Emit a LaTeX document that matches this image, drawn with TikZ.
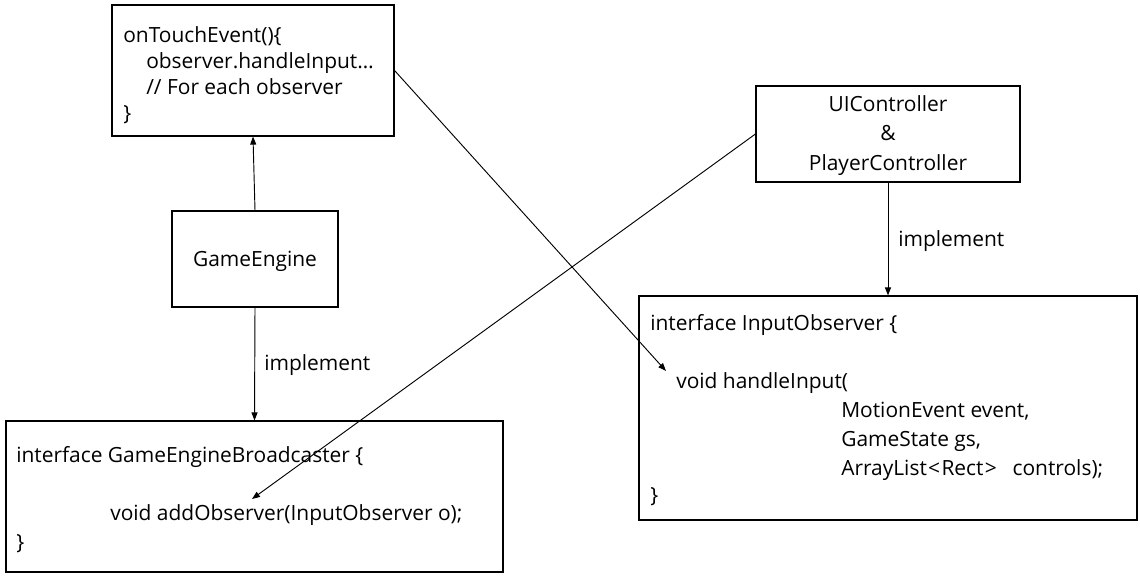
\documentclass[tikz,border=0pt]{standalone}
\usepackage{fontspec}
\setmainfont{Open Sans}
\usetikzlibrary{arrows.meta}
\begin{document}
\begin{tikzpicture}[x=0.75pt,y=-0.75pt,
  box/.style={draw=black,line width=0.85pt,inner sep=0pt},
  txt/.style={anchor=base west,inner sep=0pt,font=\fontsize{15.7}{18}\selectfont},
  ctxt/.style={anchor=base,inner sep=0pt,font=\fontsize{15.7}{18}\selectfont},
  conn/.style={draw=black,line width=0.7pt,-{Triangle[length=6pt,width=4.5pt]}}]
\useasboundingbox (0,0) rectangle (1140,578);
% boxes
\node[box,minimum width=211.5pt,minimum height=98.25pt] (touch) at (253,70.5) {};
\node[box,minimum width=124.5pt,minimum height=72pt] (ge) at (255,259) {};
\node[box,minimum width=372.75pt,minimum height=113.25pt] (bc) at (254.5,496.5) {};
\node[box,minimum width=198pt,minimum height=72pt] (uic) at (888,134) {};
\node[box,minimum width=373.5pt,minimum height=168pt] (io) at (888,408) {};
% texts: touch
\node[txt] (t1) at (123,42) {onTouchEvent()\{};
\node[txt] (t2) at (146,68) {observer.handleInput…};
\node[txt] (t3) at (146,94) {// For each observer};
\node[txt] (t4) at (123,120) {\}};
% GameEngine
\node[ctxt] (get) at (255,266) {GameEngine};
% broadcaster
\node[txt] (b1) at (16,462) {interface GameEngineBroadcaster \{};
\node[txt] (b2) at (110,520) {void addObserver(InputObserver o);};
\node[txt] (b3) at (16,549) {\}};
% UIController
\node[ctxt] (u1) at (888,111) {UIController};
\node[ctxt] (u2) at (888,140) {\&};
\node[ctxt] (u3) at (888,170) {PlayerController};
% InputObserver
\node[txt] (i1) at (650,330) {interface InputObserver \{};
\node[txt] (i2) at (676,388) {void handleInput(};
\node[txt] (i3) at (841,417) {MotionEvent event,};
\node[txt] (i4) at (841,446) {GameState gs,};
\node[txt] (i5) at (841,475) {ArrayList\kern1pt<\kern1ptRect\kern1pt>\hspace{0.75em}controls);};
\node[txt] (i6) at (650,502) {\}};
% labels
\node[txt] (l1) at (264,370) {implement};
\node[txt] (l2) at (898,246) {implement};
% connectors
\coordinate (hEnd) at (666,371);
\coordinate (aEnd) at (252,499);
\draw[conn] (ge.north) -- (touch.south);
\draw[conn] (ge.south) -- (bc.north);
\draw[conn] (uic.south) -- (io.north);
\draw[conn] (touch.east) -- (hEnd);
\draw[conn] (uic.west) -- (aEnd);
\end{tikzpicture}
\end{document}
